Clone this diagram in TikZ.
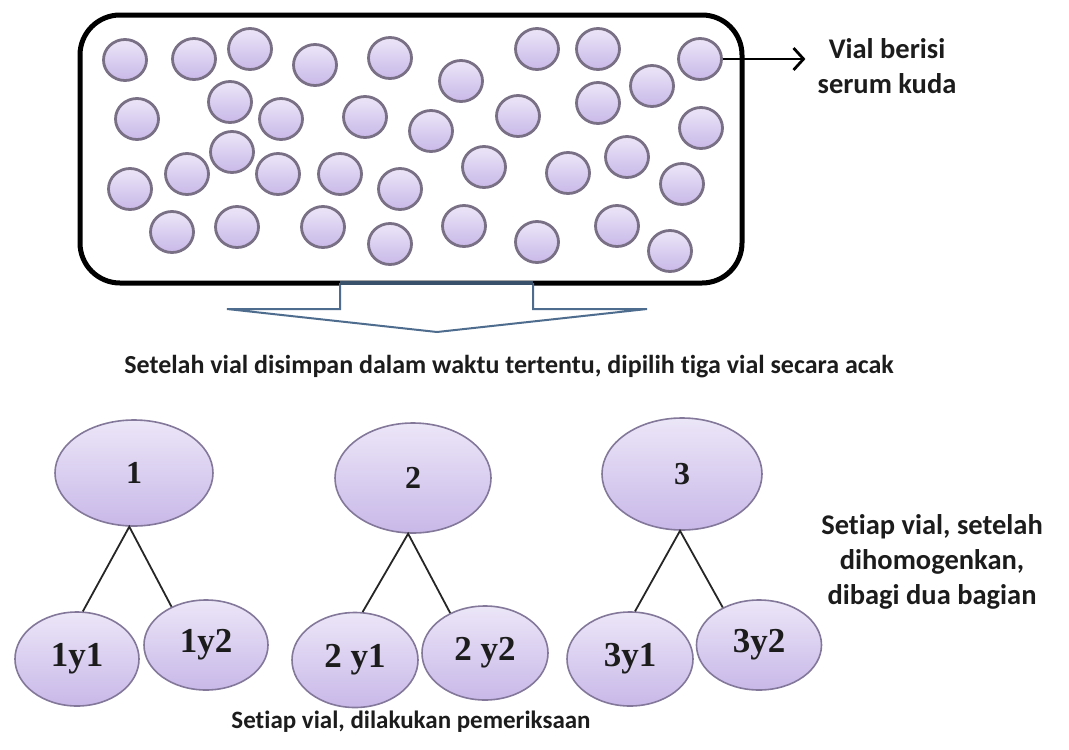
\documentclass[tikz,border=0pt]{standalone}
\usepackage{fontspec}
\setmainfont{Carlito}[Ligatures=NoCommon]
\newfontfamily\tnr{Liberation Serif}
\usetikzlibrary{shapes.geometric,arrows.meta}
\definecolor{lavtop}{HTML}{ECE6F8}
\definecolor{lavbot}{HTML}{C8B8E8}
\definecolor{rimc}{HTML}{7A7085}
\definecolor{rimb}{HTML}{83789A}
\definecolor{arrblue}{HTML}{4E6C8E}
\definecolor{txt}{HTML}{1C1C1C}
\begin{document}
\begin{tikzpicture}[x=1pt,y=-1pt,
  bead/.style={ellipse, minimum width=43pt, minimum height=41pt, inner sep=0pt,
    top color=lavtop, bottom color=lavbot, draw=rimc, line width=2.8pt},
  vialnode/.style={ellipse, inner sep=0pt, top color=lavtop, bottom color=lavbot,
    draw=rimb, line width=1.6pt, text=txt},
  parentfont/.style={font=\tnr\bfseries\fontsize{32}{32}\selectfont},
  childfont/.style={font=\tnr\bfseries\fontsize{35}{35}\selectfont},
  treeline/.style={draw=black!85, line width=1.8pt},
  lbl/.style={text=txt, font=\bfseries\fontsize{28.5}{35}\selectfont, align=center, inner sep=0pt}
]
\useasboundingbox (0,0) rectangle (1069,750);

% vial box
\draw[line width=5pt, rounded corners=40pt] (80,15) rectangle (742,283);

% serum beads
\foreach \x/\y [count=\i] in {125/60, 194/59, 250/49, 315/65, 390/58, 537/49, 598/49, 700/59, 461/81, 652/86,
  137/119, 230/102, 281/119, 365/117, 431/131, 518/116, 598/103, 701/128,
  232/152, 130/189, 187/174, 278/174, 340/174, 400/189, 484/167, 568/173, 627/157, 682/184,
  172/232, 237/227, 323/227, 390/244, 464/226, 537/242, 617/226, 670/251}
  \node[bead] (c\i) at (\x,\y) {};

% label of the vial
\node[lbl] (vl) at (887,66) {Vial berisi\\serum kuda};
\draw[line width=2.8pt, -{Straight Barb[length=10pt,width=22pt]}, shorten >=12pt]
  (c8.east) -- (c8.east -| vl.west);

% block arrow down
\draw[arrblue, line width=2pt, fill=white, line join=miter]
  (340,283) -- (340,309) -- (227,309) -- (437,332) -- (647,309) -- (533,309) -- (533,283);
\draw[arrblue!75!black, line width=4.5pt] (340,283) -- (533,283);

\node[text=txt, font=\bfseries\fontsize{26}{30}\selectfont] (mid) at (509,367)
  {Setelah vial disimpan dalam waktu tertentu, dipilih tiga vial secara acak};

% three chosen vials
\node[vialnode, parentfont, minimum width=158pt, minimum height=106pt] (v1) at (134,473) {1};
\node[vialnode, parentfont, minimum width=156pt, minimum height=110pt] (v2) at (413,478) {2};
\node[vialnode, parentfont, minimum width=160pt, minimum height=112pt] (v3) at (682,474) {3};

\node[vialnode, childfont, minimum width=124pt, minimum height=94pt] (v1a) at (77,659) {1y1};
\node[vialnode, childfont, minimum width=124pt, minimum height=90pt] (v1b) at (206,645) {1y2};
\node[vialnode, childfont, minimum width=126pt, minimum height=95pt] (v2a) at (355,660) {2 y1};
\node[vialnode, childfont, minimum width=126pt, minimum height=94pt] (v2b) at (485,653) {2 y2};
\node[vialnode, childfont, minimum width=126pt, minimum height=94pt] (v3a) at (630,659) {3y1};
\node[vialnode, childfont, minimum width=125pt, minimum height=90pt] (v3b) at (759,645) {3y2};

\draw[treeline] (v1a.83) -- (v1.265) -- (v1b.132);
\draw[treeline] (v2a.81) -- (v2.265) -- (v2b.131);
\draw[treeline] (v3a.84) -- (v3.268) -- (v3b.134);

\node[lbl] (hl) at (932,562) {Setiap vial, setelah\\dihomogenkan,\\dibagi dua bagian};
\node[text=txt, font=\bfseries\fontsize{25}{30}\selectfont] (bl) at (411,722)
  {Setiap vial, dilakukan pemeriksaan};
\end{tikzpicture}
\end{document}
